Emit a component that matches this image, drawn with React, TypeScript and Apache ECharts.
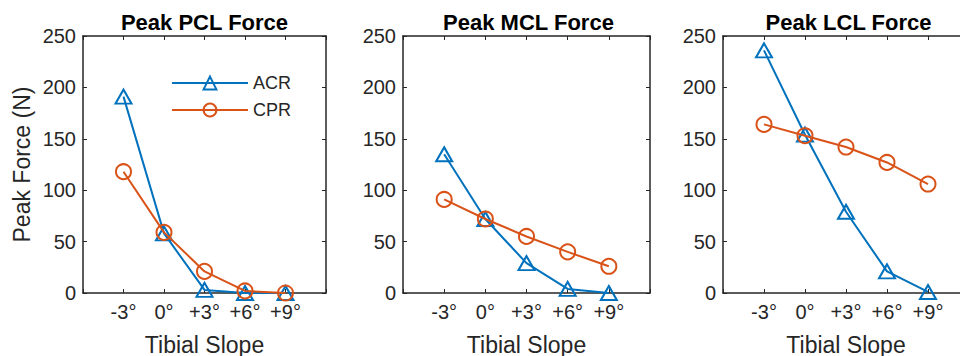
import React, { useEffect, useRef } from "react";
import * as echarts from "echarts";

const categories = ["-3°", "0°", "+3°", "+6°", "+9°"];
const titles = ["Peak PCL Force", "Peak MCL Force", "Peak LCL Force"];
const yTicks = [0, 50, 100, 150, 200, 250];
const pclACR = [191, 58, 3, 0, 0];
const pclCPR = [118, 59, 21, 2, 0];
const mclACR = [135, 72, 29, 4, 0];
const mclCPR = [91, 72, 55, 40, 26];
const lclACR = [236, 154, 79, 21, 1];
const lclCPR = [164, 153, 142, 127, 106];

const BLUE = "#0072BD";
const ORANGE = "#D95319";
const AX = "#262626";
const FONT = "Liberation Sans, Arial, sans-serif";

const panels = [
  { left: 83, width: 243, title: 204.5, acr: pclACR, cpr: pclCPR },
  { left: 403, width: 247, title: 528.5, acr: mclACR, cpr: mclCPR },
  { left: 723, width: 246, title: 848.5, acr: lclACR, cpr: lclCPR },
];

function toPts(vals: number[]) {
  return vals.map((v, i) => [i + 1, v]);
}

export default function App() {
  const ref = useRef<HTMLDivElement>(null);
  useEffect(() => {
    if (!ref.current) return;
    const chart = echarts.init(ref.current, undefined, { renderer: "svg" });
    const grids: any[] = [];
    const xAxes: any[] = [];
    const yAxes: any[] = [];
    const series: any[] = [];
    const titleArr: any[] = [];
    panels.forEach((p, k) => {
      grids.push({
        left: p.left,
        top: 36,
        width: p.width,
        height: 257,
        containLabel: false,
        outerBoundsMode: "none",
      });
      titleArr.push({
        text: titles[k],
        left: p.title,
        top: 11,
        padding: 0,
        textAlign: "center",
        textStyle: { fontFamily: FONT, fontSize: 22, fontWeight: "bold", color: "#000" },
      });
      const xBase = {
        type: "value",
        gridIndex: k,
        min: 0,
        max: 6,
        interval: 1,
        splitLine: { show: false },
        axisLine: { show: true, onZero: false, lineStyle: { color: AX, width: 1.5 } },
        axisTick: { show: true, inside: true, length: 4, lineStyle: { color: AX, width: 1 } },
      };
      xAxes.push({
        ...xBase,
        position: "bottom",
        name: "Tibial Slope",
        nameLocation: "middle",
        nameGap: 40,
        nameTextStyle: { fontFamily: FONT, fontSize: 23, color: AX },
        axisLabel: {
          show: true,
          margin: 9,
          fontFamily: FONT,
          fontSize: 20,
          color: AX,
          formatter: (v: number) => (v >= 1 && v <= 5 ? categories[v - 1] : ""),
        },
      });
      xAxes.push({ ...xBase, position: "top", axisLabel: { show: false } });
      const yBase = {
        type: "value",
        gridIndex: k,
        min: yTicks[0],
        max: yTicks[yTicks.length - 1],
        interval: 50,
        splitLine: { show: false },
        axisLine: { show: true, onZero: false, lineStyle: { color: AX, width: 1.5 } },
        axisTick: { show: true, inside: true, length: 4, lineStyle: { color: AX, width: 1 } },
      };
      yAxes.push({
        ...yBase,
        position: "left",
        name: k === 0 ? "Peak Force (N)" : "",
        nameLocation: "middle",
        nameGap: 50,
        nameTextStyle: { fontFamily: FONT, fontSize: 23, color: AX },
        axisLabel: { show: true, margin: 7, fontFamily: FONT, fontSize: 20, color: AX },
      });
      yAxes.push({ ...yBase, position: "right", axisLabel: { show: false } });
      series.push({
        name: "ACR",
        type: "line",
        xAxisIndex: k * 2,
        yAxisIndex: k * 2,
        data: toPts(p.acr),
        symbol: "triangle",
        symbolSize: [16, 14],
        showAllSymbol: true,
        lineStyle: { color: BLUE, width: 2 },
        itemStyle: { color: "rgba(255,255,255,0)", borderColor: BLUE, borderWidth: 2 },
        z: 2,
      });
      series.push({
        name: "CPR",
        type: "line",
        xAxisIndex: k * 2,
        yAxisIndex: k * 2,
        data: toPts(p.cpr),
        symbol: "circle",
        symbolSize: 15,
        showAllSymbol: true,
        lineStyle: { color: ORANGE, width: 2 },
        itemStyle: { color: "rgba(255,255,255,0)", borderColor: ORANGE, borderWidth: 2 },
        z: 3,
      });
    });
    chart.setOption({
      animation: false,
      backgroundColor: "#fff",
      title: titleArr,
      grid: grids,
      xAxis: xAxes,
      yAxis: yAxes,
      series,
      legend: {
        data: ["ACR", "CPR"],
        orient: "vertical",
        left: 171,
        top: 74,
        padding: 0,
        itemWidth: 76,
        itemHeight: 16,
        itemGap: 9,
        textStyle: { fontFamily: FONT, fontSize: 18, color: AX, lineHeight: 16 },
      },
    });
    return () => chart.dispose();
  }, []);
  return (
    <div
      ref={ref}
      style={{ position: "fixed", left: 0, top: 0, width: 960, height: 356 }}
    />
  );
}
